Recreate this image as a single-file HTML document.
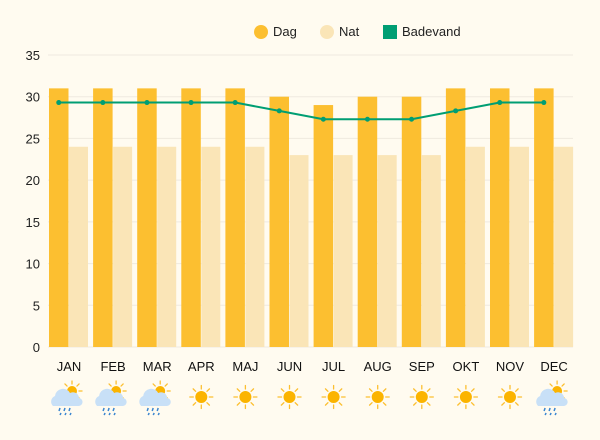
<!DOCTYPE html>
<html><head><meta charset="utf-8"><style>
body{margin:0;background:#fffbf0;}
svg{display:block;font-family:"Liberation Sans",sans-serif;}
</style></head><body>
<svg id="c" width="600" height="440" viewBox="0 0 600 440" xmlns="http://www.w3.org/2000/svg">
<rect width="600" height="440" fill="#fffbf0"/>
<circle cx="261" cy="32" r="7" fill="#fcbf30"/>
<text x="273" y="36" font-size="13" fill="#222">Dag</text>
<circle cx="327" cy="32" r="7" fill="#fae5b7"/>
<text x="339" y="36" font-size="13" fill="#222">Nat</text>
<rect x="383" y="25" width="14" height="14" fill="#009e73"/>
<text x="402" y="36" font-size="13" fill="#222">Badevand</text>
<g id="g"></g>
</svg>
<script>
var g=document.getElementById('g'),h='';
var y0=347,k=8.343;
for(var v=0;v<=35;v+=5){var y=y0-v*k;h+='<line x1="48" x2="573" y1="'+y+'" y2="'+y+'" stroke="#efeadf" stroke-width="1"/>';h+='<text x="40" y="'+(y+5)+'" font-size="13" text-anchor="end" fill="#222">'+v+'</text>';}
var d=[31,31,31,31,31,30,29,30,30,31,31,31],n=[24,24,24,24,24,23,23,23,23,24,24,24],b=[29.3,29.3,29.3,29.3,29.3,28.3,27.3,27.3,27.3,28.3,29.3,29.3];
var m=['JAN','FEB','MAR','APR','MAJ','JUN','JUL','AUG','SEP','OKT','NOV','DEC'];
var rain=[1,1,1,0,0,0,0,0,0,0,0,1];var pts=[];
function sun(cx,cy,r,ray){var s='';for(var a=0;a<8;a++){var t=a*Math.PI/4;s+='<line x1="'+(cx+Math.cos(t)*(r+2))+'" y1="'+(cy+Math.sin(t)*(r+2))+'" x2="'+(cx+Math.cos(t)*(r+2+ray))+'" y2="'+(cy+Math.sin(t)*(r+2+ray))+'" stroke="#fcbf30" stroke-width="1.3" stroke-linecap="round"/>';}return s+'<circle cx="'+cx+'" cy="'+cy+'" r="'+r+'" fill="#fbb400"/>';}
for(var i=0;i<12;i++){var x=49+i*44.1;
h+='<rect x="'+x+'" y="'+(y0-d[i]*k)+'" width="19.5" height="'+(d[i]*k)+'" fill="#fcbf30"/>';
h+='<rect x="'+(x+20)+'" y="'+(y0-n[i]*k)+'" width="19" height="'+(n[i]*k)+'" fill="#fae5b7"/>';
pts.push((x+9.75)+','+(y0-b[i]*k));
var cx=x+20;h+='<text x="'+cx+'" y="371" font-size="13" text-anchor="middle" fill="#111">'+m[i]+'</text>';
if(rain[i]){h+=sun(cx+3,391,5,3);
h+='<path d="M'+(cx-16)+',406 a6,6 0 0 1 2,-10 a8,8 0 0 1 15,-3 a6,6 0 0 1 9,5 a4,4 0 0 1 -1,8 z" fill="#c8e0f7"/>';
for(var j=0;j<3;j++){h+='<line x1="'+(cx-9+j*5)+'" y1="408" x2="'+(cx-10+j*5)+'" y2="411" stroke="#3a86d0" stroke-width="1.5"/><line x1="'+(cx-8+j*5)+'" y1="413" x2="'+(cx-9+j*5)+'" y2="415" stroke="#3a86d0" stroke-width="1.5"/>';}}
else h+=sun(cx,397,6,3.5);}
h+='<polyline points="'+pts.join(' ')+'" fill="none" stroke="#009e73" stroke-width="2"/>';
pts.forEach(function(p){var a=p.split(',');h+='<circle cx="'+a[0]+'" cy="'+a[1]+'" r="2.5" fill="#009e73"/>';});
g.innerHTML=h;
</script>
</body></html>
